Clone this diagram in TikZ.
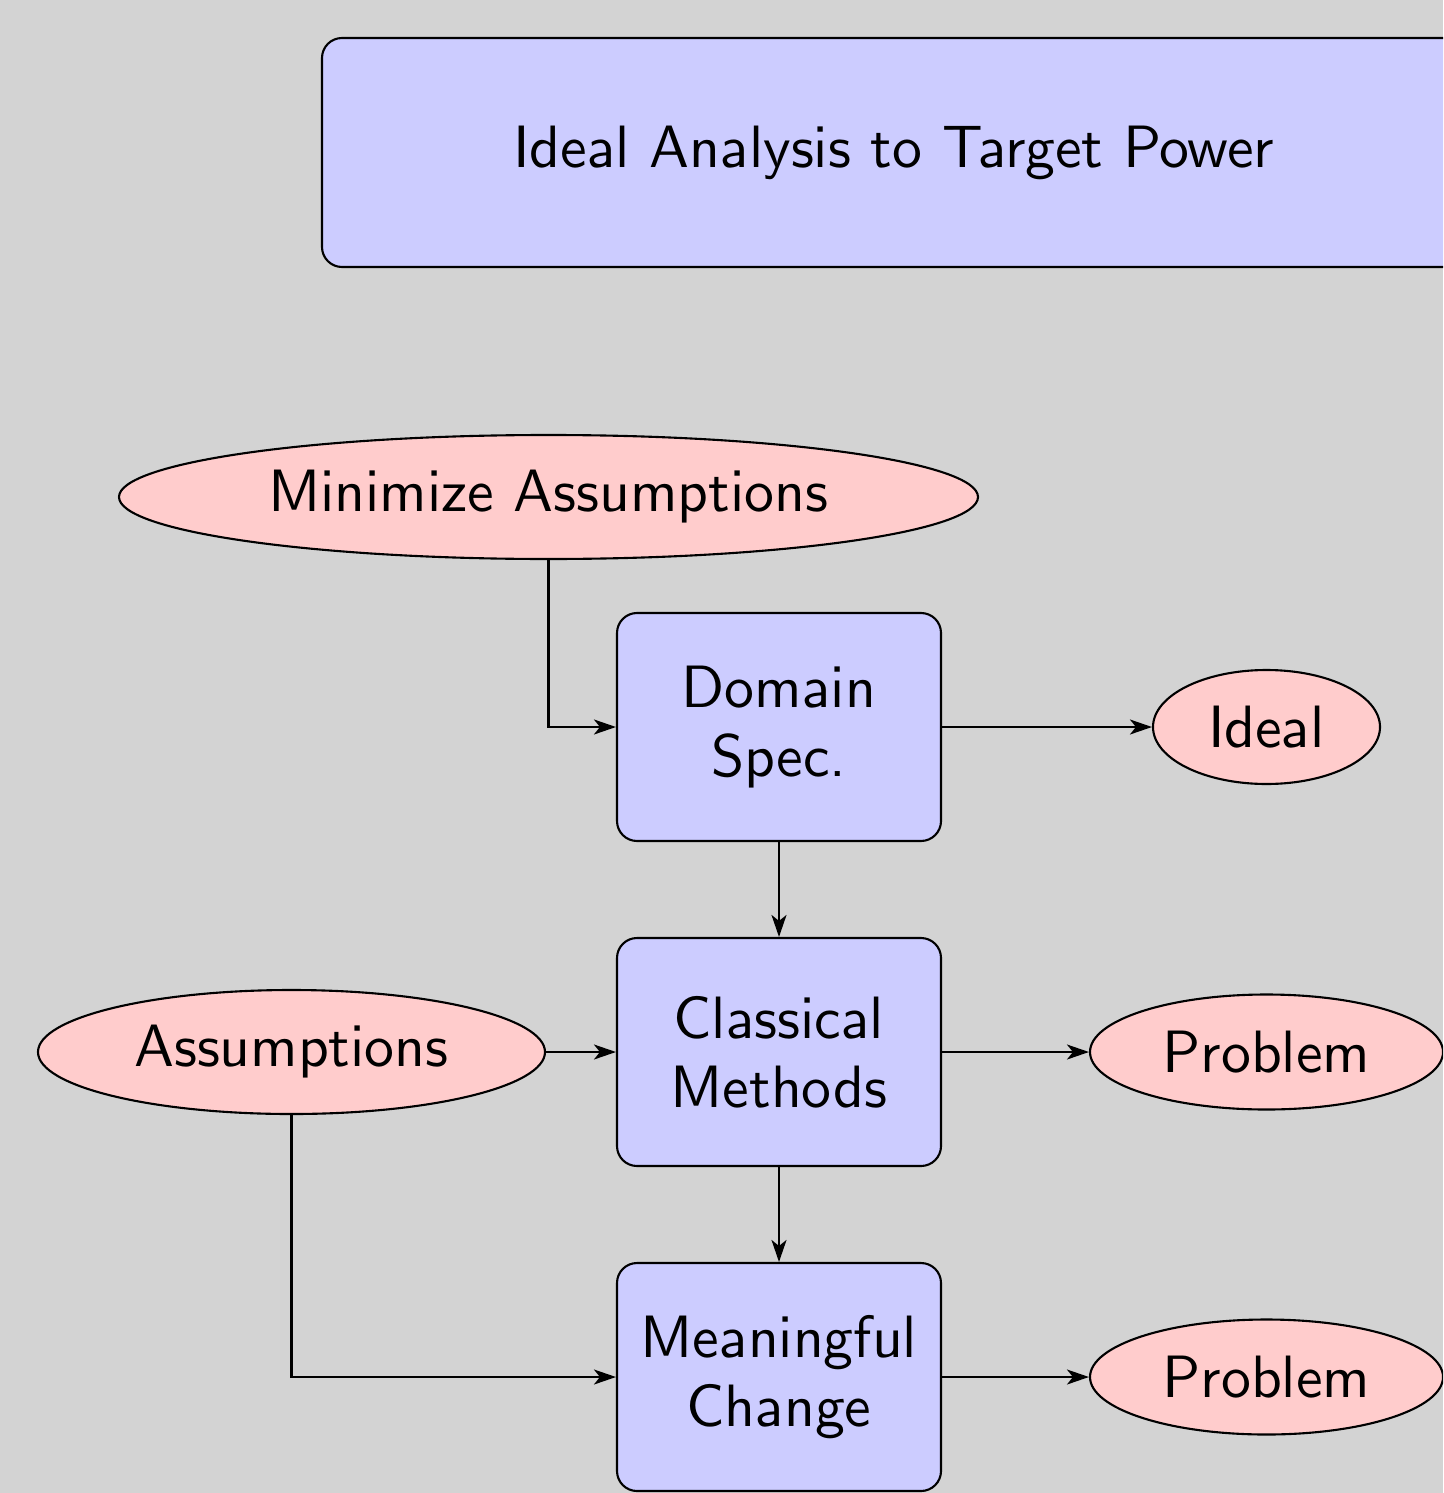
\documentclass[tikz,border=0pt]{standalone}
\usetikzlibrary{shapes.geometric}
\usetikzlibrary{arrows.meta}
\definecolor{bggray}{HTML}{D3D3D3}
\definecolor{boxblue}{HTML}{CCCCFF}
\definecolor{ovalpink}{HTML}{FFCCCC}
\font\nodefont=cmss10 at 17pt
\tikzset{
  stepbox/.style={draw, fill=boxblue, rounded corners=0.2cm, align=center,
    minimum width=3.24cm, minimum height=2.28cm},
  oval/.style={draw, ellipse, fill=ovalpink, inner sep=0pt},
}
\begin{document}
\begin{tikzpicture}[font=\sffamily\fontsize{17}{19.5}\selectfont\nodefont, semithick,
    >={Stealth[length=2.2mm, width=1.5mm, inset=0.6mm]}]

    \useasboundingbox (0,0) rectangle (14.43,-14.93);
    \clip (0,0) rectangle (14.43,-14.93);
    \fill[bggray] (0,0) rectangle (14.43,-14.93);

    \node[stepbox, minimum width=11.44cm, minimum height=2.29cm] (goal) at (8.94,-1.525) {Ideal Analysis to Target Power};

    \node[oval, minimum width=8.59cm, minimum height=1.24cm] (minasm) at (5.485,-4.97) {Minimize Assumptions};
    \node[stepbox] (domain) at (7.79,-7.27) {Domain\\Spec.};
    \node[stepbox] (classic) at (7.79,-10.52) {Classical\\Methods};
    \node[stepbox] (change) at (7.79,-13.77) {Meaningful\\Change};

    \node[oval, minimum width=2.27cm, minimum height=1.14cm] (ideal) at (12.665,-7.27) {Ideal};
    \node[oval, minimum width=5.07cm, minimum height=1.24cm] (asm) at (2.915,-10.52) {Assumptions};
    \node[oval, minimum width=3.53cm, minimum height=1.15cm] (prob1) at (12.665,-10.52) {Problem};
    \node[oval, minimum width=3.53cm, minimum height=1.15cm] (prob2) at (12.665,-13.77) {Problem};

    \draw[->] (minasm.south) |- (domain.west);
    \draw[->] (domain.east) -- (ideal.west);
    \draw[->] (domain.south) -- (classic.north);
    \draw[->] (asm.east) -- (classic.west);
    \draw[->] (classic.east) -- (prob1.west);
    \draw[->] (classic.south) -- (change.north);
    \draw[->] (asm.south) |- (change.west);
    \draw[->] (change.east) -- (prob2.west);

\end{tikzpicture}
\end{document}
